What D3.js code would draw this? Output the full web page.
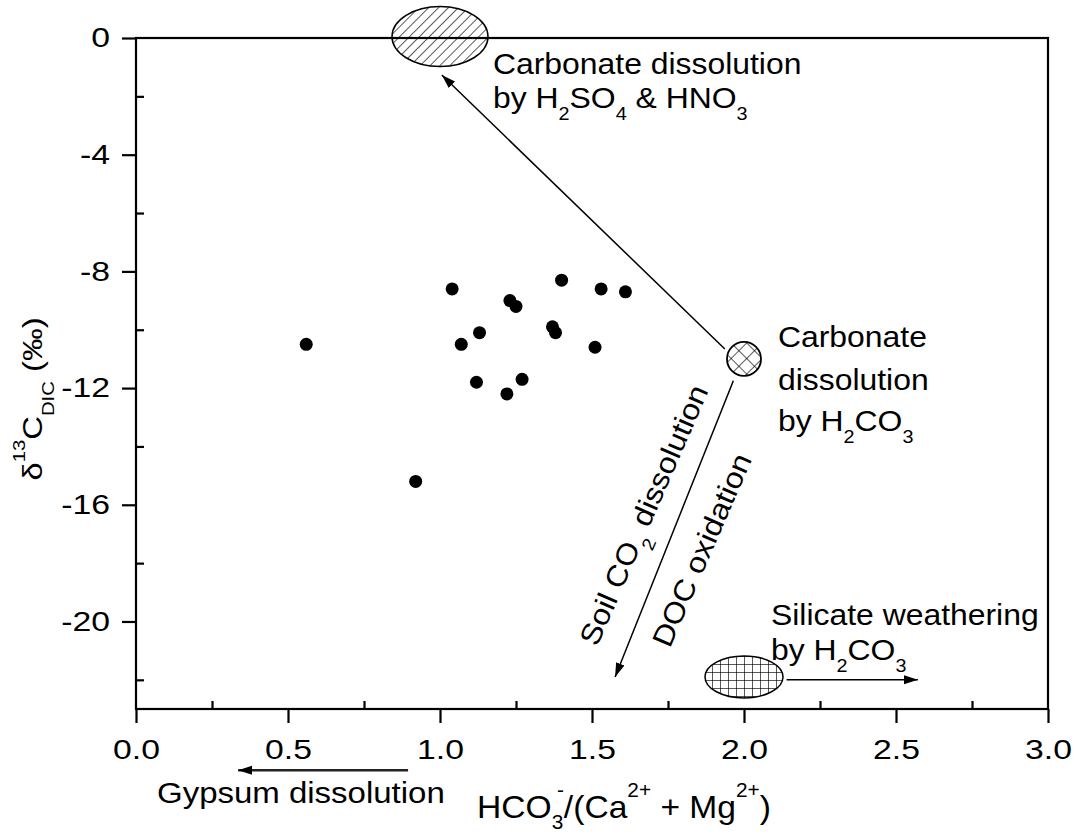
<!DOCTYPE html>
<html>
<head>
<meta charset="utf-8">
<script src="https://cdn.jsdelivr.net/npm/d3@7"></script>
<style>
  body { margin: 0; background: #fff; }
  svg { display: block; font-family: "Liberation Sans", Arial, sans-serif; }
  text { white-space: pre; }
</style>
</head>
<body>
<svg id="chart" width="1076" height="836"></svg>
<script>
// HCO3-/(Ca2+ + Mg2+) ratio and d13C of DIC for each sample
const ratio = [0.56, 0.92, 1.04, 1.07, 1.13, 1.12, 1.22, 1.23, 1.25, 1.27, 1.37, 1.38, 1.40, 1.51, 1.53, 1.61];
const d13c  = [-10.5, -15.2, -8.6, -10.5, -10.1, -11.8, -12.2, -9.0, -9.2, -11.7, -9.9, -10.1, -8.3, -10.6, -8.6, -8.7];

const xTicks = [0, 0.5, 1.0, 1.5, 2.0, 2.5, 3.0];
const xMinor = [0.25, 0.75, 1.25, 1.75, 2.25, 2.75];
const yTicks = [0, -4, -8, -12, -16, -20];
const yMinor = [-2, -6, -10, -14, -18, -22];

// end-member fields (data coords)
const fieldSulfuric  = { x: 1.0, y: 0.05 };
const fieldCarbonic  = { x: 2.0, y: -11.0 };
const fieldSilicate  = { x: 2.0, y: -21.9 };

// process arrows [x1, y1, x2, y2] in data coords
const arrowSulfuric = [1.937, -10.66, 1.006, -1.27];
const arrowSoil     = [1.965, -11.75, 1.576, -21.9];
const arrowSilicate = [2.14, -22.0, 2.572, -22.0];
const arrowGypsum   = [0.895, -25.1, 0.336, -25.1];

const svg = d3.select('#chart');
const x = d3.scaleLinear().domain([0, 3]).range([136, 1048]);
const y = d3.scaleLinear().domain([-23, 0]).range([709, 38]);

// patterns and arrowhead
const defs = svg.append('defs');
const pat = (id, size, rot, lines) => {
  const p = defs.append('pattern').attr('id', id)
    .attr('patternUnits', 'userSpaceOnUse')
    .attr('width', size).attr('height', size)
    .attr('patternTransform', `rotate(${rot})`);
  lines.forEach(l => p.append('line')
    .attr('x1', l[0]).attr('y1', l[1]).attr('x2', l[2]).attr('y2', l[3])
    .attr('stroke', '#000').attr('stroke-width', 1.3));
};
pat('hatch', 7, 45, [[0, 0, 0, 7]]);
pat('cross', 11, 45, [[0, 0, 0, 11], [0, 0, 11, 0]]);
pat('grid', 8, 0, [[0, 0, 0, 8], [0, 0, 8, 0]]);

defs.append('marker').attr('id', 'head')
  .attr('markerUnits', 'userSpaceOnUse')
  .attr('viewBox', '0 -5 14 10')
  .attr('refX', 14).attr('refY', 0)
  .attr('markerWidth', 14).attr('markerHeight', 10)
  .attr('orient', 'auto')
  .append('path').attr('d', 'M0,-4.5L14,0L0,4.5Z').attr('fill', '#000');

// rich text with sub/superscripts
function rich(parts, { px, py, size, sx = 1, rotate = 0, anchor = 'start', sub = 0.43, sup = -0.6 }) {
  const t = svg.append('text')
    .attr('transform', `translate(${px},${py}) rotate(${rotate}) scale(${sx},1)`)
    .attr('font-size', size)
    .attr('text-anchor', anchor)
    .attr('fill', '#000');
  let shift = 0;
  parts.forEach(([s, kind, dx]) => {
    const target = kind === 'sub' ? sub * size : kind === 'sup' ? sup * size : 0;
    t.append('tspan')
      .attr('dy', target - shift)
      .attr('dx', dx || 0)
      .attr('font-size', kind ? size * 0.62 : size)
      .text(s);
    shift = target;
  });
  return t;
}

// minor ticks (inward)
svg.append('g').attr('transform', 'translate(0,709)')
  .call(d3.axisBottom(x).tickValues(xMinor).tickSize(-8).tickFormat(''))
  .call(g => g.select('.domain').remove())
  .selectAll('line').attr('stroke-width', 2.2);
svg.append('g').attr('transform', 'translate(136,0)')
  .call(d3.axisLeft(y).tickValues(yMinor).tickSize(-8).tickFormat(''))
  .call(g => g.select('.domain').remove())
  .selectAll('line').attr('stroke-width', 2.2);

// major ticks (outward) with stretched labels
const xAxis = svg.append('g').attr('transform', 'translate(0,709)')
  .call(d3.axisBottom(x).tickValues(xTicks).tickSize(14).tickSizeOuter(0)
    .tickPadding(17).tickFormat(d3.format('.1f')));
xAxis.select('.domain').remove();
xAxis.selectAll('line').attr('stroke-width', 2.2);
xAxis.selectAll('text').attr('font-size', 27).attr('font-family', null)
  .attr('fill', '#000').attr('transform', 'scale(1.25,1)');

const yAxis = svg.append('g').attr('transform', 'translate(136,0)')
  .call(d3.axisLeft(y).tickValues(yTicks).tickSize(14).tickSizeOuter(0)
    .tickFormat(d => String(d)));
yAxis.select('.domain').remove();
yAxis.selectAll('line').attr('stroke-width', 2.2);
yAxis.selectAll('text').attr('font-size', 27).attr('font-family', null)
  .attr('fill', '#000').attr('x', 0)
  .attr('transform', 'translate(-26,0) scale(1.25,1)');

// fields
svg.append('ellipse')
  .attr('cx', x(fieldSulfuric.x)).attr('cy', y(fieldSulfuric.y))
  .attr('rx', 48).attr('ry', 30)
  .attr('fill', 'url(#hatch)').attr('stroke', '#000').attr('stroke-width', 1.5);
svg.append('circle')
  .attr('cx', x(fieldCarbonic.x)).attr('cy', y(fieldCarbonic.y)).attr('r', 17)
  .attr('fill', 'url(#cross)').attr('stroke', '#000').attr('stroke-width', 1.8);
svg.append('ellipse')
  .attr('cx', x(fieldSilicate.x)).attr('cy', y(fieldSilicate.y))
  .attr('rx', 39).attr('ry', 21)
  .attr('fill', 'url(#grid)').attr('stroke', '#000').attr('stroke-width', 1.5);

// frame
svg.append('rect')
  .attr('x', x(0)).attr('y', y(0))
  .attr('width', x(3) - x(0)).attr('height', y(-23) - y(0))
  .attr('fill', 'none').attr('stroke', '#000').attr('stroke-width', 2.2);

// arrows
const arrow = (a, w, c) => svg.append('line')
  .attr('x1', x(a[0])).attr('y1', y(a[1])).attr('x2', x(a[2])).attr('y2', y(a[3]))
  .attr('stroke', c).attr('stroke-width', w).attr('marker-end', 'url(#head)');
arrow(arrowSulfuric, 1.5, '#000');
arrow(arrowSoil, 1.5, '#000');
arrow(arrowSilicate, 1.5, '#000');
arrow(arrowGypsum, 2.5, '#222');

// samples
svg.append('g').selectAll('circle')
  .data(ratio.map((r, i) => [r, d13c[i]]))
  .join('circle')
  .attr('cx', d => x(d[0])).attr('cy', d => y(d[1]))
  .attr('r', 6.5).attr('fill', '#000');

// labels
const A = 29, SX = 1.1;
rich([['Carbonate dissolution']], { px: 493, py: 74, size: A, sx: SX });
rich([['by H'], ['2', 'sub'], ['SO'], ['4', 'sub'], [' & HNO'], ['3', 'sub']], { px: 493, py: 108, size: A, sx: SX });

rich([['Carbonate']], { px: 778, py: 347, size: A, sx: SX });
rich([['dissolution']], { px: 778, py: 390, size: A, sx: SX });
rich([['by H'], ['2', 'sub'], ['CO'], ['3', 'sub']], { px: 778, py: 431, size: A, sx: SX });

rich([['Silicate weathering']], { px: 771, py: 625, size: A, sx: SX });
rich([['by H'], ['2', 'sub'], ['CO'], ['3', 'sub']], { px: 771, py: 660, size: A, sx: SX });

rich([['Soil CO'], ['2', 'sub'], [' dissolution']], { px: 653, py: 519, size: A, sx: SX, rotate: -66.5, anchor: 'middle' });
rich([['DOC oxidation']], { px: 711, py: 554, size: A, sx: SX, rotate: -66.5, anchor: 'middle' });

rich([['Gypsum dissolution']], { px: 157, py: 803, size: 30, sx: 1.1 });

// axis titles
rich([['HCO'], ['3', 'sub'], ['-', 'sup', -6], ['/(Ca'], ['2+', 'sup'], [' + Mg'], ['2+', 'sup'], [')']],
  { px: 477, py: 818, size: 32, sx: 1.05, sub: 0.34, sup: -0.65 });
rich([['δ'], ['13', 'sup'], ['C'], ['DIC', 'sub'], [' (‰)']],
  { px: 42, py: 399, size: 28, sx: 1.17, rotate: -90, anchor: 'middle' });
</script>
</body>
</html>
